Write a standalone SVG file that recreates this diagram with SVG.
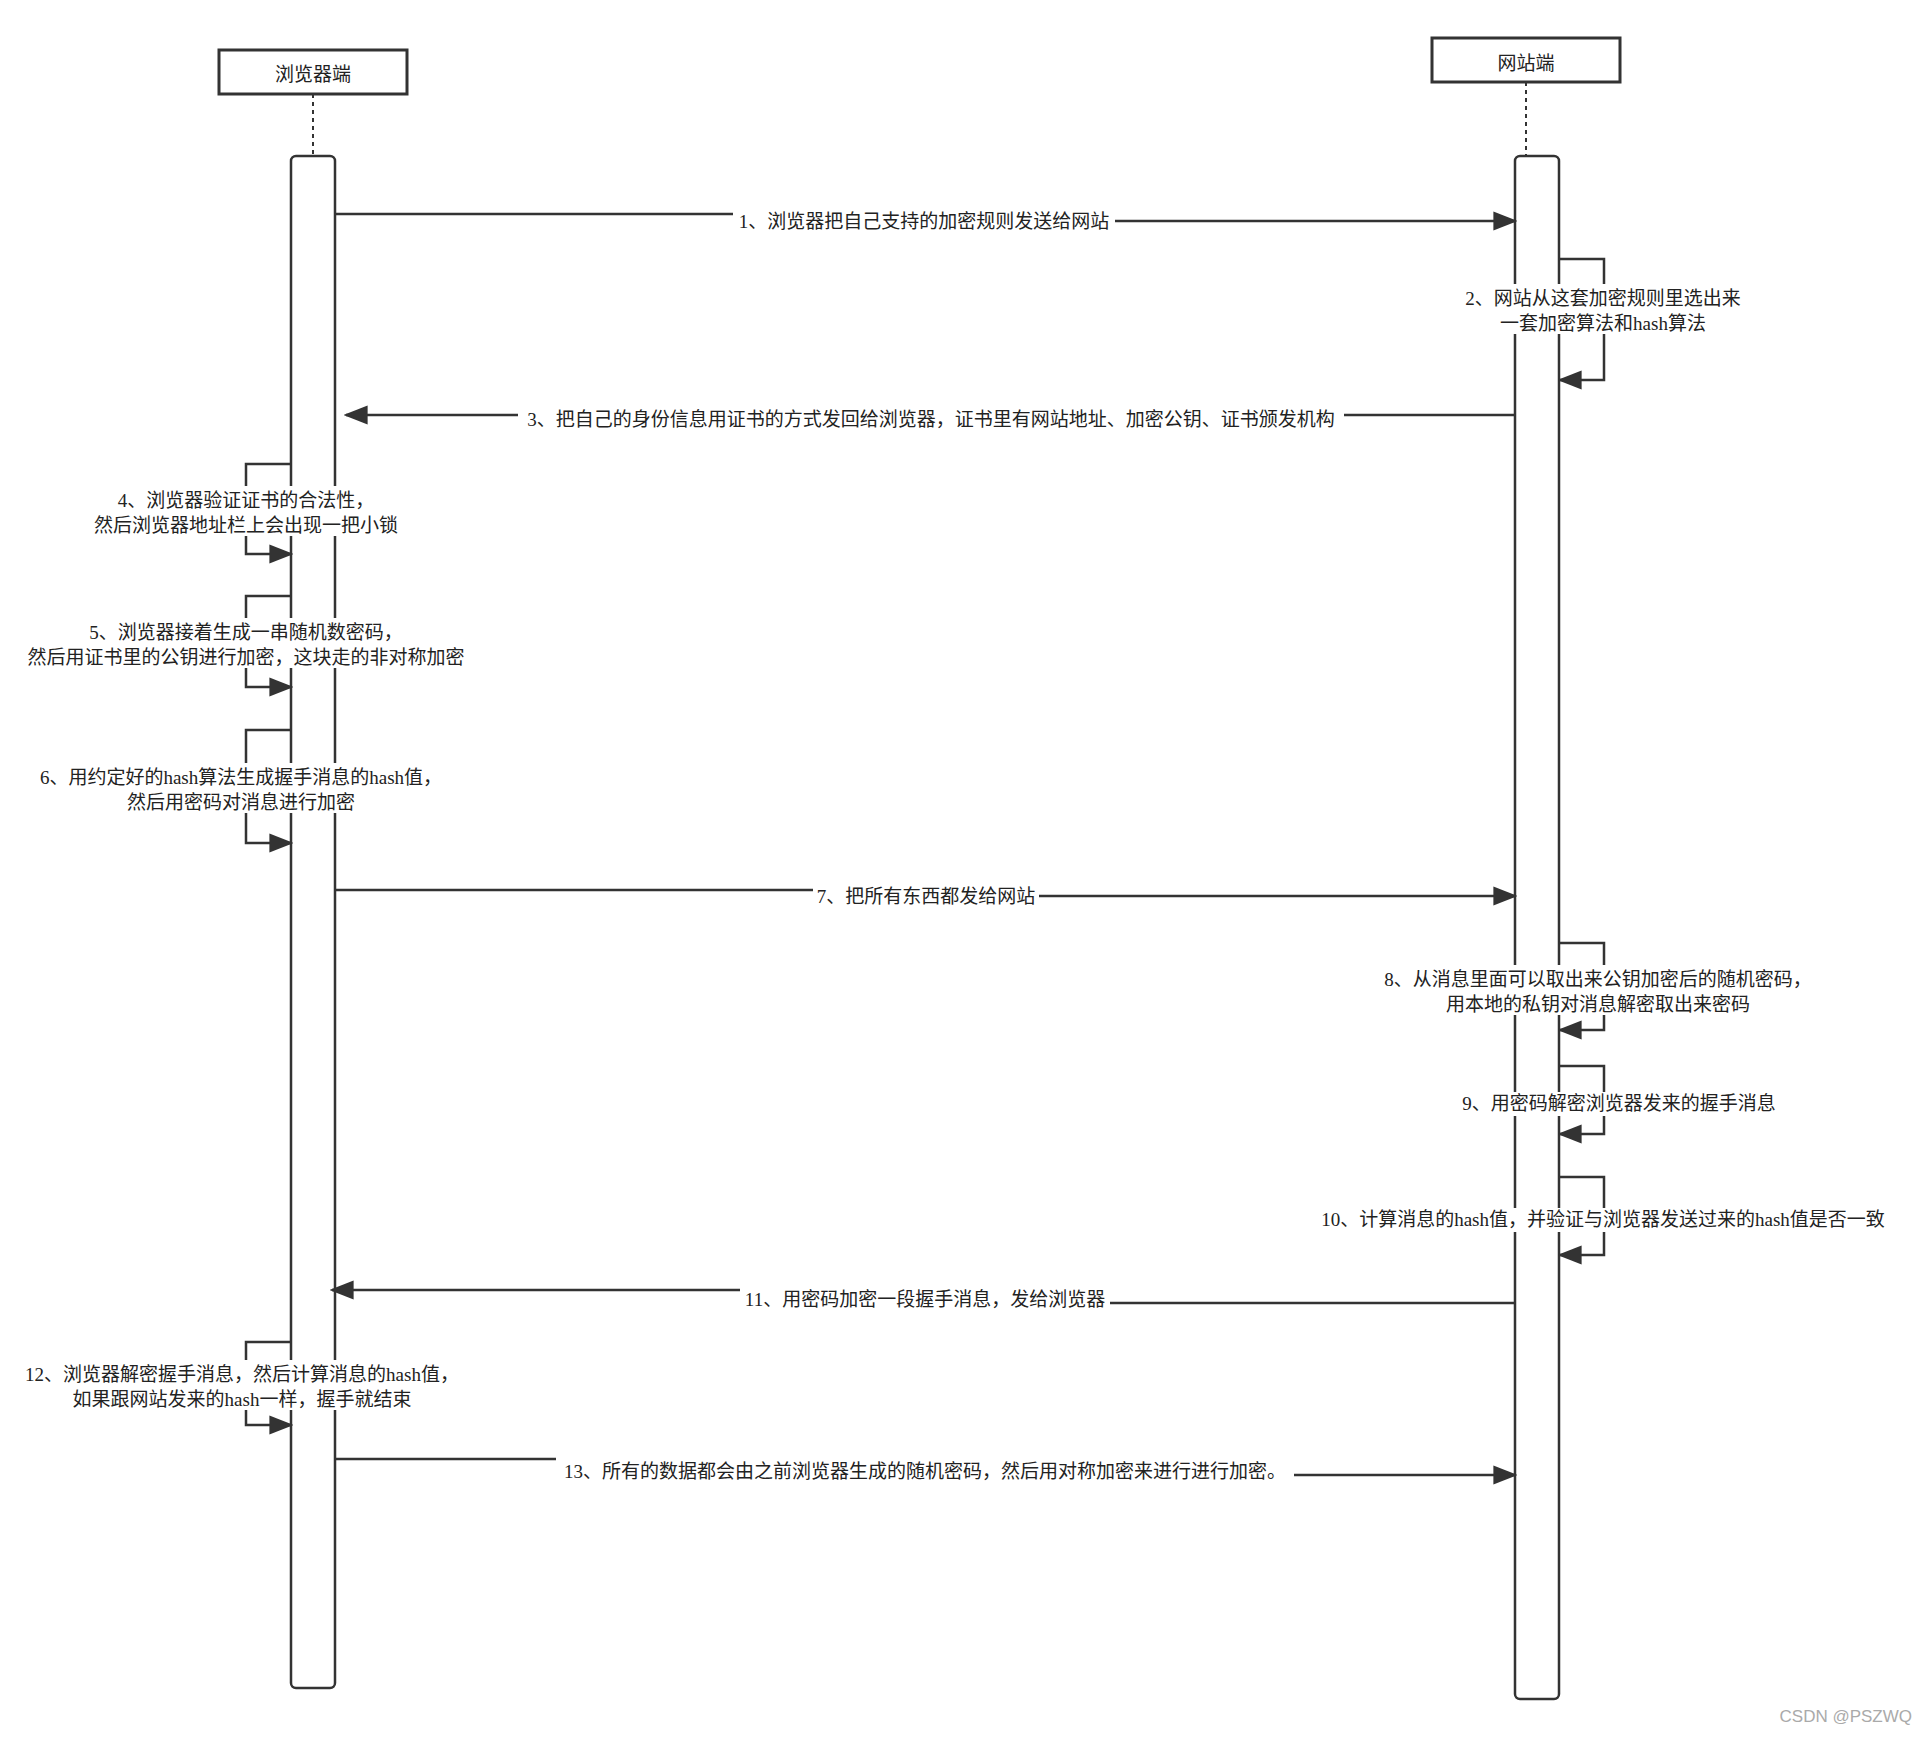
<svg xmlns="http://www.w3.org/2000/svg" width="1916" height="1738" viewBox="0 0 1916 1738">
<style>
.box{fill:#fff;stroke:#333;stroke-width:3}
.act{fill:#fff;stroke:#333;stroke-width:2.5}
.ln{fill:none;stroke:#333;stroke-width:2.5}
.life{fill:none;stroke:#333;stroke-width:2;stroke-dasharray:4 4}
.t{font-family:"Liberation Serif","Noto Sans CJK SC",serif;font-size:19px;fill:#222;text-anchor:middle}
.bg{fill:#fff}
</style>
<defs>
<marker id="b" viewBox="0 0 10 10" refX="9" refY="5" markerWidth="24" markerHeight="24" markerUnits="userSpaceOnUse" orient="auto"><path d="M0,1 L10,5 L0,9 Z" fill="#333"/></marker>
</defs>
<rect width="1916" height="1738" fill="#fff"/>
<g id="browser">
<rect class="box" x="219" y="50" width="188" height="44"/>
<text class="t" x="313" y="81">浏览器端</text>
<line class="life" x1="313" y1="94" x2="313" y2="156"/>
<rect class="act" x="291" y="156" width="44" height="1532" rx="5"/>
</g>
<g id="website">
<rect class="box" x="1432" y="38" width="188" height="44"/>
<text class="t" x="1526" y="70">网站端</text>
<line class="life" x1="1526" y1="82" x2="1526" y2="156"/>
<rect class="act" x="1515" y="156" width="44" height="1543" rx="5"/>
</g>
<g id="connectors">
<polyline class="ln" marker-end="url(#b)" points="336,214 760,214 760,221 1515,221"/>
<polyline class="ln" marker-end="url(#b)" points="1559,259 1604,259 1604,380 1560,380"/>
<polyline class="ln" marker-end="url(#b)" points="1515,415 346,415"/>
<polyline class="ln" marker-end="url(#b)" points="291,464 246,464 246,554 291,554"/>
<polyline class="ln" marker-end="url(#b)" points="291,596 246,596 246,687 291,687"/>
<polyline class="ln" marker-end="url(#b)" points="291,730 246,730 246,843 291,843"/>
<polyline class="ln" marker-end="url(#b)" points="336,890 860,890 860,896 1515,896"/>
<polyline class="ln" marker-end="url(#b)" points="1559,943 1604,943 1604,1030 1560,1030"/>
<polyline class="ln" marker-end="url(#b)" points="1559,1066 1604,1066 1604,1134 1560,1134"/>
<polyline class="ln" marker-end="url(#b)" points="1559,1177 1604,1177 1604,1255 1560,1255"/>
<polyline class="ln" marker-end="url(#b)" points="1515,1303 1000,1303 1000,1290 332,1290"/>
<polyline class="ln" marker-end="url(#b)" points="291,1342 246,1342 246,1425 291,1425"/>
<polyline class="ln" marker-end="url(#b)" points="336,1459 650,1459 650,1475 1515,1475"/>
</g>
<g id="labels">
<rect class="bg" x="733" y="207" width="382" height="26"/>
<text class="t" x="924" y="228">1、浏览器把自己支持的加密规则发送给网站</text>
<rect class="bg" x="1462" y="284" width="282" height="50"/>
<text class="t" x="1603" y="305">2、网站从这套加密规则里选出来</text>
<text class="t" x="1603" y="330">一套加密算法和hash算法</text>
<rect class="bg" x="518" y="405" width="826" height="26"/>
<text class="t" x="931" y="426">3、把自己的身份信息用证书的方式发回给浏览器，证书里有网站地址、加密公钥、证书颁发机构</text>
<rect class="bg" x="92" y="486" width="310" height="50"/>
<text class="t" x="246" y="507">4、浏览器验证证书的合法性，</text>
<text class="t" x="246" y="532">然后浏览器地址栏上会出现一把小锁</text>
<rect class="bg" x="22" y="618" width="448" height="50"/>
<text class="t" x="246" y="639">5、浏览器接着生成一串随机数密码，</text>
<text class="t" x="246" y="664">然后用证书里的公钥进行加密，这块走的非对称加密</text>
<rect class="bg" x="38" y="763" width="406" height="50"/>
<text class="t" x="241" y="784">6、用约定好的hash算法生成握手消息的hash值，</text>
<text class="t" x="241" y="809">然后用密码对消息进行加密</text>
<rect class="bg" x="813" y="883" width="226" height="26"/>
<text class="t" x="926" y="903">7、把所有东西都发给网站</text>
<rect class="bg" x="1380" y="965" width="436" height="50"/>
<text class="t" x="1598" y="986">8、从消息里面可以取出来公钥加密后的随机密码，</text>
<text class="t" x="1598" y="1011">用本地的私钥对消息解密取出来密码</text>
<rect class="bg" x="1440" y="1092" width="358" height="24"/>
<text class="t" x="1619" y="1110">9、用密码解密浏览器发来的握手消息</text>
<rect class="bg" x="1314" y="1208" width="580" height="24"/>
<text class="t" x="1603" y="1226">10、计算消息的hash值，并验证与浏览器发送过来的hash值是否一致</text>
<rect class="bg" x="740" y="1286" width="370" height="26"/>
<text class="t" x="925" y="1306">11、用密码加密一段握手消息，发给浏览器</text>
<rect class="bg" x="24" y="1360" width="436" height="50"/>
<text class="t" x="242" y="1381">12、浏览器解密握手消息，然后计算消息的hash值，</text>
<text class="t" x="242" y="1406">如果跟网站发来的hash一样，握手就结束</text>
<rect class="bg" x="556" y="1457" width="738" height="28"/>
<text class="t" x="925" y="1478">13、所有的数据都会由之前浏览器生成的随机密码，然后用对称加密来进行进行加密。</text>
</g>
<text x="1912" y="1722" style="font-family:'Liberation Sans',sans-serif;font-size:17px;fill:#aaa;text-anchor:end">CSDN @PSZWQ</text>
</svg>
